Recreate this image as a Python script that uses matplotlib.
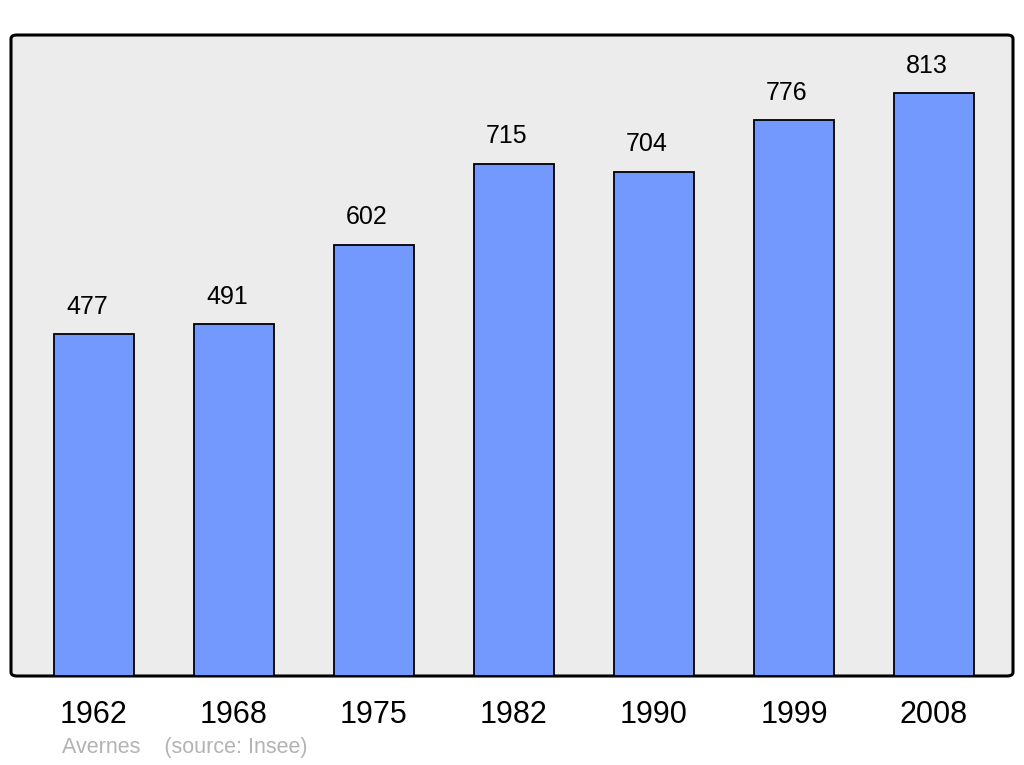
import matplotlib
matplotlib.use("Agg")
import matplotlib.pyplot as plt
from matplotlib.patches import FancyBboxPatch

years = ["1962", "1968", "1975", "1982", "1990", "1999", "2008"]
population = [477, 491, 602, 715, 704, 776, 813]

plt.rcParams['font.family'] = ['Liberation Sans', 'DejaVu Sans']

W, H = 1024, 765
fig = plt.figure(figsize=(W/100, H/100), dpi=100)
fig.patch.set_facecolor('white')

# axes placement in pixels
x0, x1, y0, y1 = 11, 1013, 35, 676
ax = fig.add_axes([x0/W, 1 - y1/H, (x1-x0)/W, (y1-y0)/H])
ax.set_facecolor('none')

# rounded background frame
bg = FancyBboxPatch((0, 0), 1, 1,
                    boxstyle="round,pad=0,rounding_size=0.006",
                    transform=ax.transAxes, facecolor='#ececec',
                    edgecolor='black', linewidth=2.2, zorder=0, clip_on=False)
ax.add_patch(bg)

xs = list(range(len(years)))
bars = ax.bar(xs, population, width=80/140, color='#7399ff',
              edgecolor='black', linewidth=1.3, zorder=2)
for x, v in zip(xs, population):
    ax.annotate(str(v), (x, v), xytext=(-5, 11), textcoords='offset points',
                ha='center', va='bottom', fontsize=18, color='black')

ax.set_xlim(-83/140, 6 + 79/140)
ax.set_ylim(0, 641/0.7165)
for s in ax.spines.values():
    s.set_visible(False)
ax.set_yticks([])
ax.set_xticks(xs)
ax.set_xticklabels(years, fontsize=22)
ax.tick_params(axis='x', length=0, pad=17.5)

fig.text(62/W, 1 - 747/H, "Avernes    (source: Insee)", fontsize=15.5,
         color='#b3b3b3', ha='left', va='center')

fig.savefig("out.png", dpi=100, facecolor='white')
